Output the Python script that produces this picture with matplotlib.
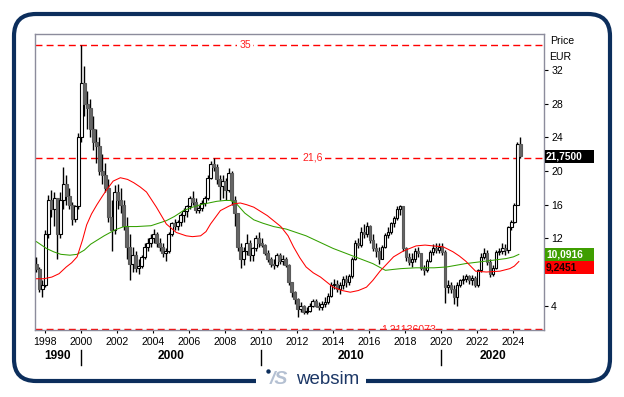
import matplotlib
matplotlib.use("Agg")
import matplotlib.pyplot as plt
import matplotlib.patches as mpatches
from matplotlib.transforms import blended_transform_factory

plt.rcParams['font.family'] = ['Liberation Sans', 'DejaVu Sans']

# ---------------- data (bi-monthly candles, Jul 1997 .. May 2024) ----------------
first_open = 9.0
close = [8.3, 6.0, 6.5,
         12.5, 16.5, 15.5, 16.8, 12.5, 16.5,
         18.5, 17.0, 16.0, 14.3, 15.8, 24.0,
         30.5, 28.0, 27.5, 25.0, 23.5, 23.0,
         20.0, 19.5, 18.0, 14.5, 13.0, 17.5,
         16.5, 16.0, 13.5, 11.0, 9.0, 10.0,
         8.5, 8.7, 9.8, 11.0, 11.5, 12.0,
         12.5, 11.5, 11.0, 10.3, 10.5, 12.5,
         13.8, 13.5, 14.0, 14.8, 15.2, 15.8,
         16.8, 16.3, 15.4, 15.6, 16.2, 16.8,
         19.2, 20.8, 20.5, 19.0, 18.2, 18.8,
         17.8, 19.8, 16.5, 15.0, 11.0, 9.5,
         10.5, 11.5, 10.0, 10.8, 12.0, 11.5,
         11.2, 10.3, 9.5, 9.0, 8.8, 10.0,
         9.3, 9.6, 8.8, 6.8, 5.6, 4.8,
         3.6, 4.0, 3.3, 3.4, 4.0, 4.5,
         4.0, 3.8, 4.2, 4.4, 5.2, 6.5,
         6.6, 6.0, 6.4, 7.2, 6.8, 7.5,
         9.6, 11.5, 11.2, 12.8, 12.5, 13.5,
         11.8, 10.8, 10.5, 9.6, 11.0, 12.4,
         12.8, 13.8, 14.4, 15.5, 15.8, 10.8,
         9.8, 9.2, 9.5, 10.5, 10.2, 8.5,
         8.2, 9.3, 10.4, 10.8, 10.6, 11.0,
         10.4, 6.2, 6.5, 6.0, 5.0, 6.5,
         7.0, 7.2, 7.5, 7.0, 7.3, 6.5,
         8.2, 9.8, 10.2, 9.2, 7.8, 8.5,
         10.4, 10.5, 10.8, 10.6, 13.3, 14.0,
         16.0, 23.2, 21.75]
high = [9.8, 8.6, 7.0,
        13.0, 17.2, 17.8, 17.5, 16.8, 17.5,
        20.5, 19.5, 18.0, 16.3, 16.0, 24.5,
        35.0, 32.5, 29.5, 28.5, 26.5, 25.0,
        24.0, 22.0, 21.0, 19.0, 16.5, 18.3,
        18.5, 18.0, 16.5, 14.5, 12.5, 11.0,
        10.5, 9.5, 10.0, 11.5, 12.0, 12.5,
        13.1, 12.8, 12.0, 11.5, 10.8, 12.8,
        14.0, 14.3, 14.2, 15.0, 15.6, 16.0,
        17.0, 17.6, 16.8, 16.0, 16.5, 17.0,
        19.5, 21.2, 21.5, 20.8, 19.5, 19.5,
        19.2, 20.3, 20.0, 17.0, 15.0, 11.5,
        11.0, 12.5, 11.8, 11.0, 12.4, 12.8,
        12.0, 11.3, 10.6, 9.8, 9.5, 10.2,
        10.2, 10.0, 9.8, 8.9, 6.8, 5.8,
        4.9, 4.4, 4.1, 3.8, 4.3, 4.8,
        4.8, 4.4, 4.5, 5.0, 5.5, 6.8,
        7.2, 7.0, 6.8, 7.5, 7.6, 7.8,
        9.8, 11.8, 12.0, 13.3, 13.7, 13.9,
        13.6, 12.5, 11.5, 11.0, 11.2, 12.6,
        13.4, 14.0, 14.6, 15.9, 16.0, 15.9,
        11.0, 10.3, 10.2, 10.8, 11.0, 10.3,
        8.8, 9.6, 10.6, 11.3, 11.4, 11.4,
        11.5, 10.6, 7.0, 6.8, 6.4, 6.8,
        7.2, 7.6, 7.8, 7.7, 7.6, 7.5,
        8.4, 10.2, 10.9, 10.6, 9.5, 8.8,
        10.6, 10.9, 11.5, 11.3, 13.5, 14.2,
        16.2, 23.5, 24.0]
low = [8.0, 5.6, 5.0,
       6.2, 12.0, 14.5, 13.5, 9.6, 12.0,
       15.5, 16.0, 15.5, 13.6, 14.0, 15.5,
       23.5, 26.5, 25.0, 24.0, 22.5, 21.0,
       19.5, 18.5, 17.5, 14.0, 10.5, 12.5,
       15.5, 15.0, 13.0, 9.5, 7.0, 8.0,
       8.0, 7.8, 8.5, 9.5, 10.5, 11.0,
       11.5, 11.0, 10.5, 9.8, 9.3, 10.3,
       12.3, 13.0, 13.0, 13.5, 14.0, 14.5,
       15.5, 16.0, 15.0, 15.0, 15.3, 15.8,
       16.5, 19.0, 20.0, 18.5, 16.5, 16.8,
       16.5, 17.5, 16.0, 13.5, 10.5, 8.5,
       8.8, 10.0, 9.3, 9.3, 10.5, 11.0,
       11.0, 10.0, 9.2, 8.6, 8.4, 8.6,
       9.0, 8.8, 8.6, 6.5, 5.0, 4.2,
       2.7, 3.2, 3.0, 3.0, 3.3, 3.8,
       3.8, 3.5, 3.5, 3.9, 4.2, 5.0,
       6.0, 5.6, 5.4, 6.0, 6.2, 6.5,
       7.3, 9.4, 10.8, 11.0, 12.0, 12.2,
       11.5, 10.5, 9.8, 9.0, 9.5, 10.8,
       12.0, 12.5, 13.3, 14.2, 14.8, 10.5,
       9.3, 8.8, 8.6, 9.2, 9.8, 8.2,
       7.6, 8.0, 9.2, 10.0, 10.2, 10.2,
       10.0, 4.3, 5.5, 5.5, 4.2, 4.0,
       6.2, 6.6, 6.8, 6.6, 6.5, 6.2,
       6.2, 8.0, 9.5, 8.8, 7.4, 7.5,
       8.3, 10.0, 10.1, 10.0, 10.3, 13.0,
       13.8, 16.0, 21.5]
start_year = 1997.5
period = 1.0 / 6.0

# moving averages (decimal year, value)
red_t = [1997.55, 1997.95, 1998.4, 1998.8, 1999.2, 1999.5, 1999.8, 2000.1, 2000.33,
         2000.6, 2000.9, 2001.2, 2001.45, 2001.8, 2002.2, 2002.6, 2002.95, 2003.3,
         2003.65, 2004.2, 2004.75, 2005.3, 2005.85, 2006.2, 2006.65, 2006.95, 2007.2,
         2007.75, 2008.2, 2008.5, 2008.85, 2009.2, 2009.6, 2010.35, 2011.1, 2011.5,
         2011.8, 2012.15, 2012.5, 2012.9, 2013.3, 2014.0, 2014.5, 2014.95, 2015.4,
         2015.85, 2016.2, 2016.6, 2017.0, 2017.35, 2017.9, 2018.6, 2019.1, 2019.55,
         2020.1, 2020.65, 2021.0, 2021.35, 2021.9, 2022.5, 2023.25, 2023.8, 2024.05,
         2024.3]
red_v = [7.2, 7.2, 7.4, 7.8, 8.6, 9.1, 9.8, 11.8, 13.6,
         14.9, 16.0, 17.0, 17.8, 18.8, 19.2, 19.0, 18.6, 18.1,
         17.5, 15.7, 13.7, 12.7, 12.3, 12.2, 12.3, 12.8, 13.7,
         15.3, 15.8, 16.1, 16.2, 16.0, 15.7, 14.7, 13.4, 12.3,
         11.0, 9.7, 8.6, 7.9, 7.4, 6.2, 5.8, 5.6, 5.8,
         6.2, 7.0, 8.1, 9.0, 9.8, 10.5, 11.1, 11.2, 11.1,
         11.0, 10.4, 9.9, 9.3, 8.1, 8.0, 8.1, 8.4, 8.7,
         9.2451]
green_t = [1997.55, 1998.1, 1998.5, 1998.9, 1999.4, 1999.8, 2000.2, 2000.55, 2001.3,
           2001.9, 2002.4, 2003.1, 2003.9, 2004.75, 2005.2, 2005.7, 2006.2, 2006.65,
           2007.1, 2007.55, 2008.0, 2008.3, 2008.6, 2009.1, 2009.6, 2010.1, 2010.7,
           2011.4, 2012.5, 2013.3, 2014.0, 2015.1, 2016.2, 2016.9, 2017.3, 2017.75,
           2018.6, 2019.6, 2020.3, 2021.35, 2022.5, 2023.6, 2024.0, 2024.3]
green_v = [11.6, 10.8, 10.4, 10.1, 10.0, 10.1, 10.6, 11.3, 12.3,
           13.0, 13.4, 13.4, 13.5, 14.1, 14.6, 15.3, 15.7, 16.0,
           16.2, 16.4, 16.5, 16.5, 16.2, 15.0, 14.2, 13.8, 13.4,
           13.1, 12.3, 11.5, 10.8, 9.9, 9.0, 8.2, 8.3, 8.4,
           8.5, 8.5, 8.6, 9.0, 9.3, 9.6, 9.8, 10.0916]

hlines = [35.0, 21.6, 1.2113]
hline_labels = ["35", "21,6", "1,21136073"]
y_ticks = [4, 8, 12, 16, 20, 24, 28, 32]
y_ticklabels = ["4", "", "12", "16", "20", "24", "28", "32"]
x_ticks = list(range(1998, 2025, 2))
decades = ["1990", "2000", "2010", "2020"]
decade_bounds = [2000, 2010, 2020]

# ---------------- figure ----------------
W, H = 624, 397
fig = plt.figure(figsize=(W / 100, H / 100), dpi=100)
fig.patch.set_facecolor("white")

bg = fig.add_axes([0, 0, 1, 1], zorder=0)
bg.set_xlim(0, W)
bg.set_ylim(H, 0)
bg.axis("off")
navy = "#0c2e5c"
frame = mpatches.FancyBboxPatch((14, 14), 596, 367,
                                boxstyle="round,pad=0,rounding_size=22",
                                linewidth=3.0, edgecolor=navy, facecolor="none")
bg.add_patch(frame)
bg.add_patch(mpatches.Rectangle((256, 376), 110, 10, facecolor="white",
                                edgecolor="none", zorder=3))
bg.add_patch(mpatches.Circle((268.5, 371.5), 2.2, facecolor=navy, edgecolor="none", zorder=4))
bg.text(270, 379, "/S", fontsize=14, fontweight="bold", style="italic",
        color="#b4c0d2", ha="left", va="center", zorder=4)
bg.text(296, 379, "websim", fontsize=13.5, color="#1c3766",
        ha="left", va="center", zorder=4)

ax = fig.add_axes([35 / W, 1 - 330 / H, 509 / W, 296 / H], zorder=2)
ax.set_facecolor("white")
px_per_year = 18.03
x0_year = 2000 - (80.7 - 35) / px_per_year
x1_year = 2000 + (544 - 80.7) / px_per_year
ax.set_xlim(x0_year, x1_year)
ax.set_ylim(1.11, 36.277)

for s in ax.spines.values():
    s.set_color("#8c8c9c")
    s.set_linewidth(1.0)

# candles
n = len(close)
opens = [first_open] + close[:-1]
xs = [start_year + i * period + period / 4 for i in range(n)]
ax.vlines(xs, low, high, color="black", linewidth=1.0, zorder=3)
for x, o, c in zip(xs, opens, close):
    bottom = min(o, c)
    h = max(abs(c - o), 0.08)
    if c >= o:
        ax.bar(x, h, bottom=bottom, width=0.15, facecolor="white",
               edgecolor="black", linewidth=0.8, zorder=4)
    else:
        ax.bar(x, h, bottom=bottom, width=0.15, facecolor="#666666",
               edgecolor="#5a5a5a", linewidth=0.8, zorder=4)

# moving averages
ax.plot(green_t, green_v, color="#33a000", linewidth=0.75, zorder=5)
ax.plot(red_t, red_v, color="#ff0000", linewidth=0.75, zorder=5)

# horizontal dashed lines
for yv in hlines:
    ax.axhline(yv, color="#ff0000", linewidth=1.0, linestyle=(0, (5, 3)), zorder=2)

def px2yr(px):
    return 2000 + (px - 80.7) / px_per_year

ax.text(px2yr(245), hlines[0], hline_labels[0], color="#ff2020", fontsize=7.6,
        ha="center", va="center", zorder=6,
        bbox=dict(facecolor="white", edgecolor="none", pad=1.5))
ax.text(px2yr(313), hlines[1], hline_labels[1], color="#ff2020", fontsize=7.6,
        ha="center", va="center", zorder=6,
        bbox=dict(facecolor="white", edgecolor="none", pad=1.5))
ax.text(px2yr(381), hlines[2], hline_labels[2], color="#ff2020", fontsize=7.6,
        ha="left", va="center", zorder=6, clip_on=True)

# axes ticks
ax.yaxis.tick_right()
ax.set_yticks(y_ticks)
ax.set_yticklabels(y_ticklabels)
ax.tick_params(axis="y", direction="out", length=3.2, width=0.8, colors="black",
               pad=2, labelsize=7.6)
ax.set_xticks(x_ticks)
ax.set_xticklabels([str(v) for v in x_ticks])
ax.tick_params(axis="x", direction="out", length=2.5, width=0.8, colors="black",
               pad=2.5, labelsize=7.6)

fig.text(550 / W, 1 - 41 / H, "Price", fontsize=7.6, ha="left", va="center")
fig.text(549 / W, 1 - 57 / H, "EUR", fontsize=7.6, ha="left", va="center")

# decade row
trans = blended_transform_factory(ax.transData, fig.transFigure)
bounds = [x0_year] + decade_bounds + [x1_year]
for i, lab in enumerate(decades):
    xc = (bounds[i] + bounds[i + 1]) / 2
    ax.text(xc, 1 - 356 / H, lab, transform=trans, fontsize=8.6, fontweight="bold",
            ha="center", va="center", clip_on=False)
for b in decade_bounds:
    ax.plot([b, b], [1 - 350 / H, 1 - 365 / H], transform=trans, color="black",
            linewidth=1.0, clip_on=False)

# value boxes on the right
tr2 = blended_transform_factory(ax.transAxes, ax.transData)
box_w = 49 / 509
box_h = 13 / 8.417

def value_box(yc, text, fc, tc):
    ax.add_patch(mpatches.Rectangle((1.002, yc - box_h / 2), box_w, box_h,
                                    transform=tr2, facecolor=fc, edgecolor="none",
                                    clip_on=False, zorder=7))
    ax.text(1.004, yc, text, transform=tr2, fontsize=7.4, fontweight="bold",
            color=tc, ha="left", va="center", clip_on=False, zorder=8)

last_close = close[-1]
value_box(last_close, f"{last_close:.4f}".replace(".", ","), "black", "white")
g_last = green_v[-1]
r_last = red_v[-1]
value_box(g_last, f"{g_last:.4f}".replace(".", ","), "#3f9e00", "white")
value_box(g_last - box_h, f"{r_last:.4f}".replace(".", ","), "#ff0000", "#1a0000")

fig.savefig("out.png", dpi=100, facecolor="white")
